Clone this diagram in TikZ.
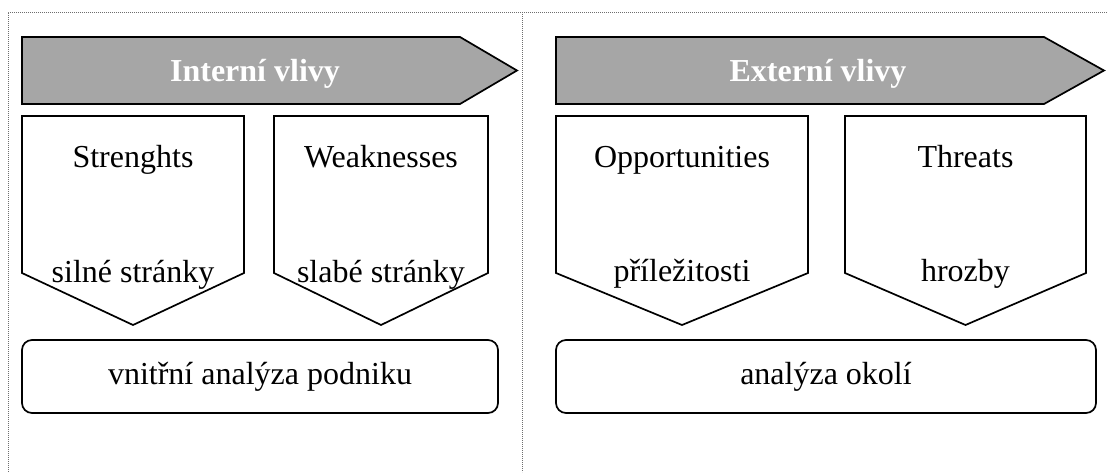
\documentclass[tikz,border=0pt]{standalone}
\usepackage{fontspec}
\setmainfont{Liberation Serif}
\definecolor{bannergray}{RGB}{166,166,166}
\definecolor{framegray}{RGB}{110,110,110}
\begin{document}
\begin{tikzpicture}[x=1pt,y=-1pt,
  framedots/.style={draw=framegray, line width=0.9pt, dash pattern=on 0.9pt off 1.1pt},
  bannershape/.style={draw=black, fill=bannergray, line width=1.7pt, line join=miter},
  pentashape/.style={draw=black, fill=white, line width=1.7pt, line join=miter},
  roundbox/.style={draw=black, line width=1.7pt, rounded corners=10pt, inner sep=0pt},
  lbl/.style={font=\fontsize{32}{38}\selectfont, inner sep=0pt, anchor=base},
  bannerlbl/.style={font=\fontsize{32}{38}\selectfont\bfseries, text=white, inner sep=0pt, anchor=base}
]
\useasboundingbox (0,0) rectangle (1107,472);
% dotted frame
\draw[framedots] (8,472) -- (8,12) -- (1107,12);
\draw[framedots] (522,12) -- (522,472);
% banners
\draw[bannershape] (22,37) -- (460,37) -- (517,70.5) -- (460,104) -- (22,104) -- cycle;
\draw[bannershape] (556,37) -- (1044,37) -- (1104,70.5) -- (1044,104) -- (556,104) -- cycle;
\node[bannerlbl] (int) at (255,81) {Interní vlivy};
\node[bannerlbl] (ext) at (818,81) {Externí vlivy};
% pentagons
\draw[pentashape] (22,116) -- (244,116) -- (244,273) -- (133,325) -- (22,273) -- cycle;
\draw[pentashape] (274,116) -- (488,116) -- (488,273) -- (381,325) -- (274,273) -- cycle;
\draw[pentashape] (556,116) -- (808,116) -- (808,273) -- (682,325) -- (556,273) -- cycle;
\draw[pentashape] (845,116) -- (1086,116) -- (1086,273) -- (965.5,325) -- (845,273) -- cycle;
\node[lbl] (s) at (133,167) {Strenghts};
\node[lbl] (w) at (381,167) {Weaknesses};
\node[lbl] (o) at (682,167) {Opportunities};
\node[lbl] (t) at (965.5,167) {Threats};
\node[lbl] (s2) at (133,282) {silné stránky};
\node[lbl] (w2) at (381,282) {slabé stránky};
\node[lbl] (o2) at (682,281) {příležitosti};
\node[lbl] (t2) at (965.5,281) {hrozby};
% rounded boxes
\node[roundbox, minimum width=476pt, minimum height=73pt] (vb) at (260,376.5) {};
\node[roundbox, minimum width=540pt, minimum height=73pt] (ab) at (826,376.5) {};
\node[lbl] (vt) at (260,384) {vnitřní analýza podniku};
\node[lbl] (at) at (826,384) {analýza okolí};
\end{tikzpicture}
\end{document}
